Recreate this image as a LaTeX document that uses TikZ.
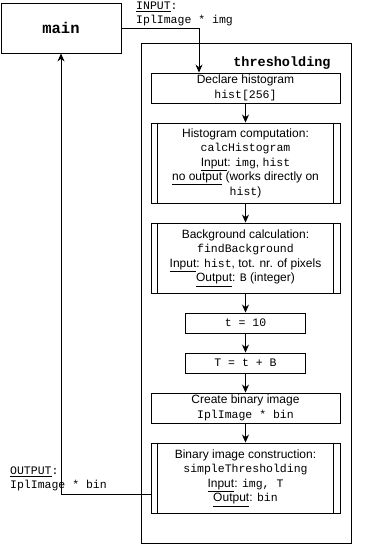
\documentclass[tikz,border=0pt]{standalone}
\usepackage{fontspec}
\setmainfont{Liberation Sans}
\setmonofont{Liberation Mono}
\usetikzlibrary{arrows.meta}
\tikzset{
  box/.style={draw, line width=0.9pt, rectangle, inner sep=0pt, align=center,
    font=\fontsize{12}{14.5}\selectfont},
  arr/.style={draw, line width=0.9pt, -{Stealth[length=8pt,width=7pt]}},
  lbl/.style={inner sep=0pt, align=left, font=\ttfamily\fontsize{11.5}{14.5}\selectfont},
}
\newcommand{\cd}[1]{{\fontsize{11.5}{14.5}\ttfamily #1}}
\begin{document}
\begin{tikzpicture}[x=1pt,y=-1pt]
\useasboundingbox (0,0) rectangle (381,544);

% main and the thresholding frame
\node[box, minimum width=120pt, minimum height=50pt,
      font=\ttfamily\bfseries\fontsize{15.5}{18}\selectfont] (main) at (61,28) {main};
\node[draw, line width=0.9pt, minimum width=210pt, minimum height=500pt, inner sep=0pt] (thr) at (246,293) {};
\node[inner sep=0pt, font=\ttfamily\bfseries\fontsize{13.5}{16}\selectfont] (thrlbl) at (282,63) {thresholding};

% steps
\node[box, minimum width=189pt, minimum height=30pt] (decl) at (245.5,88)
  {Declare histogram\\\cd{hist[256]}};
\node[box, minimum width=189pt, minimum height=80pt] (calc) at (245.5,163)
  {Histogram computation:\\\cd{calcHistogram}\\\underline{Input}: \cd{img}, \cd{hist}\\\underline{no output} (works directly on\\\cd{hist})};
\node[box, minimum width=189pt, minimum height=70pt] (bg) at (245.5,258)
  {Background calculation:\\\cd{findBackground}\\\underline{Input}: \cd{hist}, tot. nr. of pixels\\\underline{Output}: \cd{B} (integer)};
\node[box, minimum width=120pt, minimum height=20pt] (tset) at (245.5,323) {\cd{t = 10}};
\node[box, minimum width=120pt, minimum height=20pt] (tsum) at (245.5,363) {\cd{T = t + B}};
\node[box, minimum width=189pt, minimum height=30pt] (mk) at (245.5,408)
  {Create binary image\\\cd{IplImage * bin}};
\node[box, minimum width=189pt, minimum height=70pt] (bin) at (245.5,478)
  {Binary image construction:\\\cd{simpleThresholding}\\\underline{Input}: \cd{img, T}\\\underline{Output}: \cd{bin}};

% inner edges of the subroutine boxes
\foreach \n in {calc,bg,bin}{
  \draw[line width=0.9pt] ([xshift=7pt]\n.north west) -- ([xshift=7pt]\n.south west);
  \draw[line width=0.9pt] ([xshift=-7pt]\n.north east) -- ([xshift=-7pt]\n.south east);
}

% input and output labels
\node[lbl, anchor=north west] (inlbl) at (136,1.5) {\underline{INPUT}:\\IplImage * img};
\node[lbl, anchor=west] (outlbl) at (10,479) {\underline{OUTPUT}:\\IplImage * bin};

% connectors
\coordinate (indrop) at ([xshift=-46.5pt]decl.north);
\draw[arr] (main.east) -| (indrop);
\draw[arr] (decl) -- (calc);
\draw[arr] (calc) -- (bg);
\draw[arr] (bg) -- (tset);
\draw[arr] (tset) -- (tsum);
\draw[arr] (tsum) -- (mk);
\draw[arr] (mk) -- (bin);
\draw[arr] ([yshift=-16pt]bin.west) -| (main.south);
\end{tikzpicture}
\end{document}
